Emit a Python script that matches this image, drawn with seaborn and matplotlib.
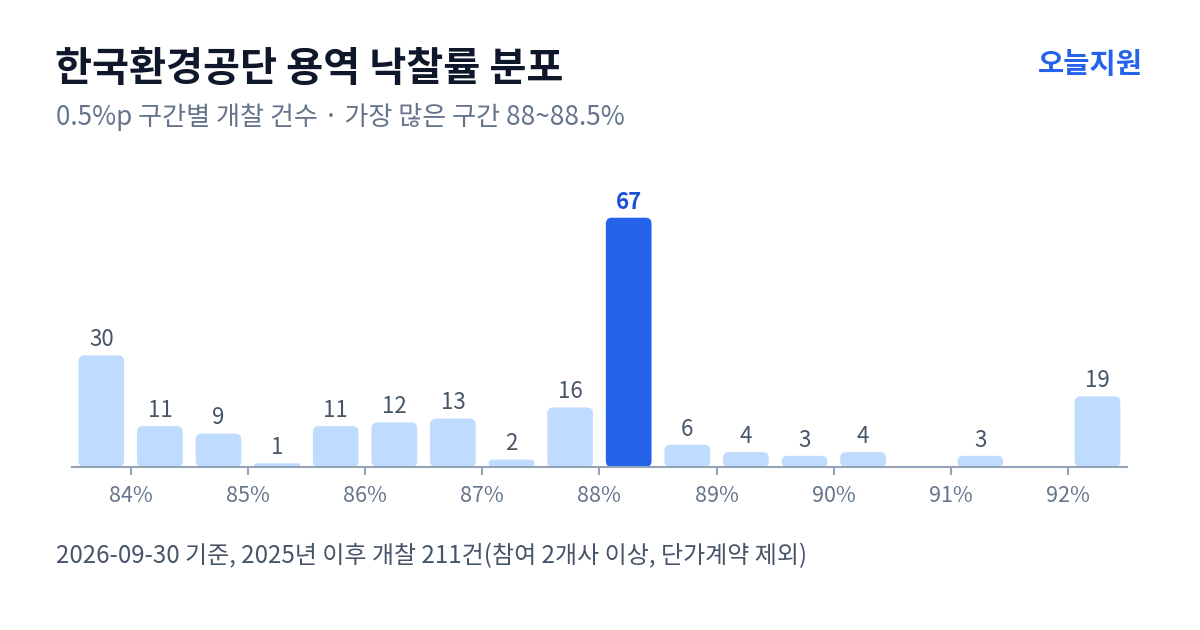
#
# 한국환경공단 용역 낙찰률 분포 - 0.5%p bins
#

import numpy as np
import pandas as pd
from matplotlib import pyplot as plt
from matplotlib.patches import FancyBboxPatch
import seaborn as sns

# Data
bins = ["83.5~84", "84~84.5", "84.5~85", "85~85.5", "85.5~86", "86~86.5",
        "86.5~87", "87~87.5", "87.5~88", "88~88.5", "88.5~89", "89~89.5",
        "89.5~90", "90~90.5", "90.5~91", "91~91.5", "91.5~92", "92~92.5"]
counts = [30, 11, 9, 1, 11, 12, 13, 2, 16, 67, 6, 4, 3, 4, 0, 3, 0, 19]
tick_labels = ["84%", "85%", "86%", "87%", "88%", "89%", "90%", "91%", "92%"]
peak_bin = "88~88.5"

title = "한국환경공단 용역 낙찰률 분포"
subtitle = "0.5%p 구간별 개찰 건수 · 가장 많은 구간 88~88.5%"
footnote = "2026-09-30 기준, 2025년 이후 개찰 211건(참여 2개사 이상, 단가계약 제외)"
brand = "오늘지원"

LIGHT = "#BFDBFE"
BLUE = "#2563EB"

sns.set_style("white")
plt.rcParams['font.family'] = ['Noto Sans CJK KR', 'DejaVu Sans']

fig = plt.figure(figsize=(12, 6.3), dpi=100)
ax = fig.add_axes([0.06, 0.2587, 0.879, 0.443])

df = pd.DataFrame({"bin": bins, "count": counts})
sns.barplot(x="bin", y="count", data=df, order=bins, color=LIGHT, width=0.78, ax=ax)

ax.set_xlim(-0.5, len(bins) - 0.5)
ax.set_ylim(0, 75)

# pixel scales to keep corners round
fig.canvas.draw()
bbox = ax.get_window_extent()
px_x = bbox.width / (len(bins))
px_y = bbox.height / 75.0

patches = list(ax.patches)
for p, name, val in zip(patches, bins, counts):
    x, w, h = p.get_x(), p.get_width(), p.get_height()
    p.remove()
    if val <= 0:
        continue
    r_px = min(6.0, h * px_y / 2.0)
    col = BLUE if name == peak_bin else LIGHT
    fb = FancyBboxPatch((x, 0), w, h,
                        boxstyle="round,pad=0,rounding_size=%f" % (r_px / px_x),
                        mutation_aspect=px_x / px_y,
                        facecolor=col, edgecolor="none", zorder=2)
    ax.add_patch(fb)
    if name == peak_bin:
        ax.annotate(str(val), (x + w / 2, h), xytext=(0, 3), textcoords="offset points",
                    ha="center", va="bottom", fontsize=16, fontweight="bold", color="#1D4ED8")
    else:
        ax.annotate(str(val), (x + w / 2, h), xytext=(0, 3), textcoords="offset points",
                    ha="center", va="bottom", fontsize=16, color="#475569")

# axes styling
for s in ["top", "right", "left"]:
    ax.spines[s].set_visible(False)
ax.spines["bottom"].set_color("#94A3B8")
ax.spines["bottom"].set_linewidth(1.5)
ax.set_yticks([])
ax.set_xticks(np.arange(0.5, len(bins), 2))
ax.set_xticklabels(tick_labels)
ax.tick_params(axis="x", length=6, width=1.5, color="#94A3B8", labelcolor="#64748B",
               labelsize=15.5, pad=7, direction="out", bottom=True)
ax.set_xlabel("")
ax.set_ylabel("")

# texts
fig.text(0.046, 0.89, title, ha="left", va="center", fontsize=29, fontweight="bold", color="#0F172A")
fig.text(0.047, 0.815, subtitle, ha="left", va="center", fontsize=18.8, color="#64748B")
fig.text(0.952, 0.897, brand, ha="right", va="center", fontsize=20.5, fontweight="bold", color=BLUE)
fig.text(0.047, 0.117, footnote, ha="left", va="center", fontsize=17.3, color="#475569")

plt.savefig("out.png", dpi=100)
